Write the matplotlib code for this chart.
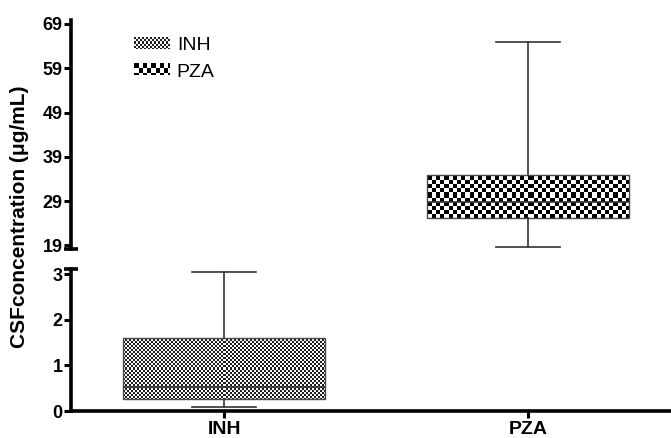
import numpy as np
import matplotlib
matplotlib.use('Agg')
import matplotlib.pyplot as plt
from matplotlib.legend_handler import HandlerBase
from matplotlib.image import BboxImage
from matplotlib.transforms import Bbox, TransformedBbox
from matplotlib.patches import Patch

plt.rcParams['font.family'] = ['Liberation Sans', 'DejaVu Sans']

# box statistics (ug/mL)
groups = ['INH', 'PZA']
whislo = [0.09, 18.6]
q1 = [0.26, 25.3]
med = [0.53, 28.9]
q3 = [1.6, 34.8]
whishi = [3.04, 64.9]

upper_ticks = [19, 29, 39, 49, 59, 69]
lower_ticks = [0, 1, 2, 3]

# texture: checker cell size in pixels, dark / light grey level
cells = [2.0, 4.2]
shades = [(0.12, 0.97), (0.0, 1.0)]


def checker(h, w, cell, lo, hi):
    yy, xx = np.indices((max(h, 1), max(w, 1)))
    on = ((xx // cell).astype(int) + (yy // cell).astype(int)) % 2 == 0
    return np.where(on, lo, hi)


class HandlerChecker(HandlerBase):
    def __init__(self, cell, shade):
        super().__init__()
        self.cell = cell
        self.shade = shade

    def create_artists(self, legend, orig_handle, xdescent, ydescent,
                       width, height, fontsize, trans):
        bb = TransformedBbox(Bbox.from_bounds(-xdescent, -ydescent, width, height), trans)
        img = BboxImage(bb, cmap='gray', norm=plt.Normalize(0, 1), interpolation='nearest')
        w_px = int(round(width * legend.figure.dpi / 72))
        h_px = int(round(height * legend.figure.dpi / 72))
        img.set_data(checker(h_px, w_px, self.cell, *self.shade))
        return [img]


W, H = 671, 438
fig = plt.figure(figsize=(W / 100, H / 100), dpi=100)


def place(l, t, r, b):
    return [l / W, 1 - b / H, (r - l) / W, (b - t) / H]


ax_top = fig.add_axes(place(71, 20, 671, 249))
ax_bot = fig.add_axes(place(71, 269, 671, 411))

stats = [dict(label=g, whislo=a, q1=b, med=c, q3=d, whishi=e, fliers=[])
         for g, a, b, c, d, e in zip(groups, whislo, q1, med, q3, whishi)]

xlim = (0.495, 2.472)
ylims = {ax_top: (18.2, 69.9), ax_bot: (0, 3.11)}

for ax in (ax_top, ax_bot):
    ax.set_xlim(*xlim)
    ax.set_ylim(*ylims[ax])
    res = ax.bxp(stats, positions=[1, 2], widths=0.667, capwidths=0.21,
                 patch_artist=True, showfliers=False,
                 boxprops=dict(facecolor='none', edgecolor='#4a4a4a', lw=1),
                 whiskerprops=dict(color='#333333', lw=1.2),
                 capprops=dict(color='#333333', lw=1.2),
                 medianprops=dict(color='#333333', lw=1.2))
    lo, hi = ylims[ax]
    for i, patch in enumerate(res['boxes']):
        ext = patch.get_path().get_extents()
        if ext.y1 < lo or ext.y0 > hi:
            continue
        p = ax.transData.transform([[ext.x0, ext.y0], [ext.x1, ext.y1]])
        w_px = int(round(p[1, 0] - p[0, 0]))
        h_px = int(round(p[1, 1] - p[0, 1]))
        ax.imshow(checker(h_px, w_px, cells[i], *shades[i]),
                  extent=(ext.x0, ext.x1, ext.y0, ext.y1), aspect='auto',
                  cmap='gray', vmin=0, vmax=1, interpolation='nearest',
                  zorder=1, clip_path=patch)
    ax.set_xlim(*xlim)
    ax.set_ylim(*ylims[ax])
    for s in ('top', 'right'):
        ax.spines[s].set_visible(False)
    ax.spines['left'].set_linewidth(2.6)
    ax.tick_params(axis='y', length=5, width=2.2, pad=1)

ax_top.spines['bottom'].set_visible(False)
ax_top.set_xticks([])
ax_top.set_yticks(upper_ticks, labels=[str(t) for t in upper_ticks],
                  fontsize=13, fontweight='bold')
ax_bot.set_yticks(lower_ticks, labels=[str(t) for t in lower_ticks],
                  fontsize=13, fontweight='bold')
ax_bot.spines['bottom'].set_linewidth(2.6)
ax_bot.set_xticks([1, 2], labels=groups, fontsize=14, fontweight='bold')
ax_bot.tick_params(axis='x', length=5, width=2.2, pad=2)

# little end caps on the broken axis
ax_top.plot([0], [0], transform=ax_top.transAxes, marker='_', ms=10, mew=2.6,
            color='black', clip_on=False)
ax_bot.plot([0], [1], transform=ax_bot.transAxes, marker='_', ms=10, mew=2.6,
            color='black', clip_on=False)

fig.text(20 / W, 1 - 217 / H, 'CSFconcentration (μg/mL)', rotation=90,
         ha='center', va='center', fontsize=15, fontweight='bold')

handles = [Patch(label=g) for g in groups]
hmap = {h: HandlerChecker(c, s) for h, c, s in zip(handles, cells, shades)}
ax_top.legend(handles=handles, handler_map=hmap, loc='upper left',
              bbox_to_anchor=(134 / W, 1 - 37 / H), bbox_transform=fig.transFigure,
              frameon=False, fontsize=14, borderpad=0, borderaxespad=0,
              handlelength=1.85, handleheight=0.5, handletextpad=0.35,
              labelspacing=0.5)

fig.savefig('out.png', dpi=100)
